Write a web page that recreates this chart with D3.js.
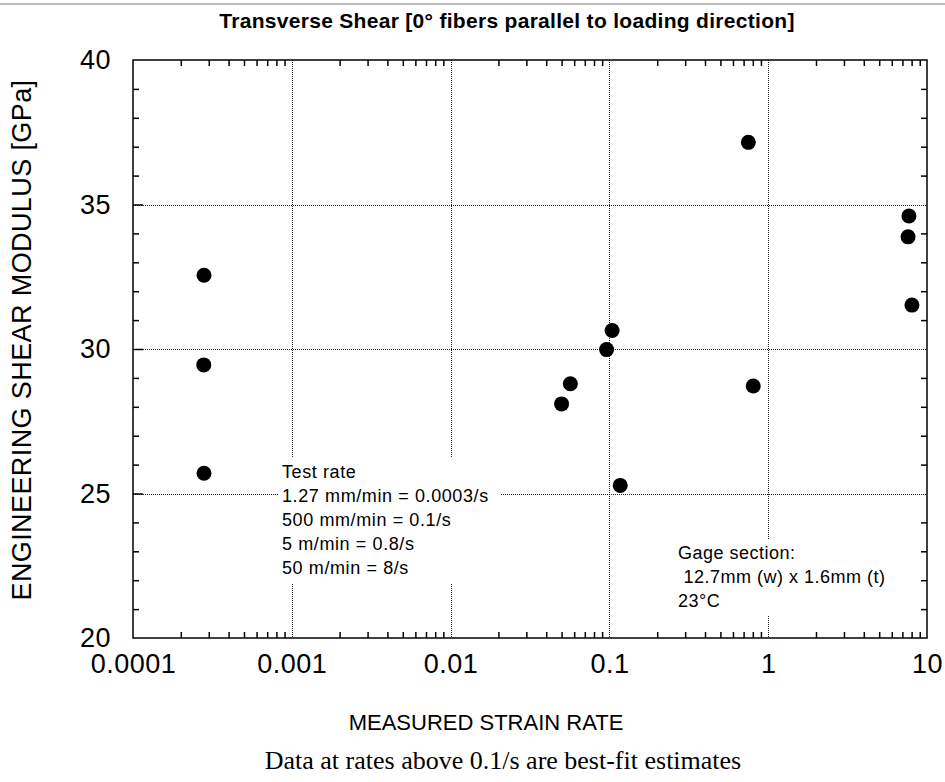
<!DOCTYPE html>
<html>
<head>
<meta charset="utf-8">
<script src="https://cdn.jsdelivr.net/npm/d3@7"></script>
<style>
  html, body { margin: 0; padding: 0; background: #fff; }
  svg { display: block; }
  text { fill: #000; }
</style>
</head>
<body>
<svg id="chart" width="945" height="782"></svg>
<script>
// Measured strain rate (1/s) and engineering shear modulus (GPa) per specimen
const strainRate = [0.00028, 0.000279, 0.00028, 0.050, 0.0568, 0.096, 0.104, 0.117, 0.75, 0.805, 7.6, 7.7, 8.04];
const shearModulus = [32.55, 29.45, 25.7, 28.1, 28.8, 29.98, 30.64, 25.28, 37.15, 28.72, 33.88, 34.6, 31.52];

// Axis ticks
const xMajorTicks = [0.0001, 0.001, 0.01, 0.1, 1, 10];
const xTickLabels = ["0.0001", "0.001", "0.01", "0.1", "1", "10"];
const yMajorTicks = [20, 25, 30, 35, 40];
const yMinorTicks = [21, 22, 23, 24, 26, 27, 28, 29, 31, 32, 33, 34, 36, 37, 38, 39];

// Text
const chartTitle = "Transverse Shear [0\u00B0 fibers parallel to loading direction]";
const xTitle = "MEASURED STRAIN RATE";
const yTitle = "ENGINEERING SHEAR MODULUS [GPa]";
const caption = "Data at rates above 0.1/s are best-fit estimates";
const rateNotes = ["Test rate", "1.27 mm/min = 0.0003/s", "500 mm/min = 0.1/s", "5 m/min = 0.8/s", "50 m/min = 8/s"];
const gageNotes = ["Gage section:", "\u00A012.7mm (w) x 1.6mm (t)", "23\u00B0C"];

const SANS = "Arial, 'Liberation Sans', sans-serif";
const SERIF = "'Times New Roman', 'Liberation Serif', serif";

const svg = d3.select("#chart");
const plot = { left: 133, right: 927, top: 60, bottom: 638 };

const x = d3.scaleLog().domain([1e-4, 10]).range([plot.left, plot.right]);
const y = d3.scaleLinear().domain([20, 40]).range([plot.bottom, plot.top]);

// minor ticks on the log axis: 2..9 within each decade
const xMinorTicks = [];
xMajorTicks.slice(0, -1).forEach(d => { for (let k = 2; k <= 9; k++) xMinorTicks.push(d * k); });

// thin gray rule along the top edge
svg.append("line").attr("x1", 0).attr("x2", 945).attr("y1", 4).attr("y2", 4)
  .attr("stroke", "#bbb").attr("stroke-width", 2);

// dotted grid
const grid = svg.append("g").attr("stroke", "#222").attr("stroke-width", 1).attr("stroke-dasharray", "1,1");
grid.selectAll("line.v").data(xMajorTicks.slice(1, -1)).join("line")
  .attr("x1", d => Math.round(x(d)) + 0.5).attr("x2", d => Math.round(x(d)) + 0.5)
  .attr("y1", plot.top).attr("y2", plot.bottom);
grid.selectAll("line.h").data(yMajorTicks.slice(1, -1)).join("line")
  .attr("x1", plot.left).attr("x2", plot.right)
  .attr("y1", d => Math.round(y(d)) + 0.5).attr("y2", d => Math.round(y(d)) + 0.5);

// inward minor ticks on all four sides
function styleTicks(g) {
  g.select(".domain").remove();
  g.selectAll("line").attr("stroke", "#000").attr("stroke-width", 1.5);
}
svg.append("g").attr("transform", `translate(0,${plot.bottom})`)
  .call(d3.axisBottom(x).tickValues(xMinorTicks).tickSize(-6).tickFormat("")).call(styleTicks);
svg.append("g").attr("transform", `translate(0,${plot.top})`)
  .call(d3.axisTop(x).tickValues(xMinorTicks).tickSize(-6).tickFormat("")).call(styleTicks);
svg.append("g").attr("transform", `translate(${plot.left},0)`)
  .call(d3.axisLeft(y).tickValues(yMinorTicks).tickSize(-6).tickFormat("")).call(styleTicks);
svg.append("g").attr("transform", `translate(${plot.right},0)`)
  .call(d3.axisRight(y).tickValues(yMinorTicks).tickSize(-6).tickFormat("")).call(styleTicks);
svg.append("g").attr("transform", `translate(${plot.left},0)`)
  .call(d3.axisLeft(y).tickValues(yMajorTicks.slice(1, -1)).tickSize(-10).tickFormat("")).call(styleTicks);

// tick labels
const yAxis = svg.append("g").attr("transform", `translate(${plot.left},0)`)
  .call(d3.axisLeft(y).tickValues(yMajorTicks).tickSize(0).tickPadding(22).tickFormat(d3.format("d")));
yAxis.select(".domain").remove();
yAxis.selectAll("text").style("font-size", "27px").style("font-family", SANS)
  .attr("letter-spacing", 0.5).attr("fill", "#000");

const xAxis = svg.append("g").attr("transform", `translate(0,${plot.bottom})`)
  .call(d3.axisBottom(x).tickValues(xMajorTicks).tickSize(0).tickPadding(16)
    .tickFormat((d, i) => xTickLabels[i]));
xAxis.select(".domain").remove();
xAxis.selectAll("text").style("font-size", "27px").style("font-family", SANS)
  .attr("letter-spacing", 0.5).attr("fill", "#000");

// annotation boxes (white backgrounds break the grid)
svg.append("rect").attr("x", 279).attr("y", 457).attr("width", 222).attr("height", 126).attr("fill", "#fff");
svg.append("rect").attr("x", 672).attr("y", 540).attr("width", 205).attr("height", 76).attr("fill", "#fff");

svg.append("g").selectAll("text").data(rateNotes).join("text")
  .attr("x", 282).attr("y", (d, i) => 478 + i * 24)
  .style("font-family", SANS).style("font-size", "18px")
  .attr("letter-spacing", 0.6).attr("fill", "#111").text(d => d);
svg.append("g").selectAll("text").data(gageNotes).join("text")
  .attr("x", 678).attr("y", (d, i) => 559 + i * 24)
  .style("font-family", SANS).style("font-size", "18px")
  .attr("letter-spacing", 0.5).attr("fill", "#111").text(d => d);

// frame
svg.append("rect").attr("x", plot.left).attr("y", plot.top)
  .attr("width", plot.right - plot.left).attr("height", plot.bottom - plot.top)
  .attr("fill", "none").attr("stroke", "#000").attr("stroke-width", 1.5);

// data points
svg.append("g").selectAll("circle").data(strainRate).join("circle")
  .attr("cx", d => x(d)).attr("cy", (d, i) => y(shearModulus[i]))
  .attr("r", 7.5).attr("fill", "#000");

// titles
svg.append("text").attr("x", 507).attr("y", 28).attr("text-anchor", "middle")
  .style("font-family", SANS).style("font-size", "21px").style("font-weight", "bold")
  .attr("letter-spacing", 0.3).text(chartTitle);
svg.append("text").attr("x", 486).attr("y", 730).attr("text-anchor", "middle")
  .style("font-family", SANS).style("font-size", "22px").text(xTitle);
svg.append("text").attr("transform", "translate(31,340) rotate(-90)").attr("text-anchor", "middle")
  .style("font-family", SANS).style("font-size", "27px").attr("letter-spacing", 0.4).text(yTitle);
svg.append("text").attr("x", 503).attr("y", 769).attr("text-anchor", "middle")
  .style("font-family", SERIF).style("font-size", "26px").text(caption);
</script>
</body>
</html>
